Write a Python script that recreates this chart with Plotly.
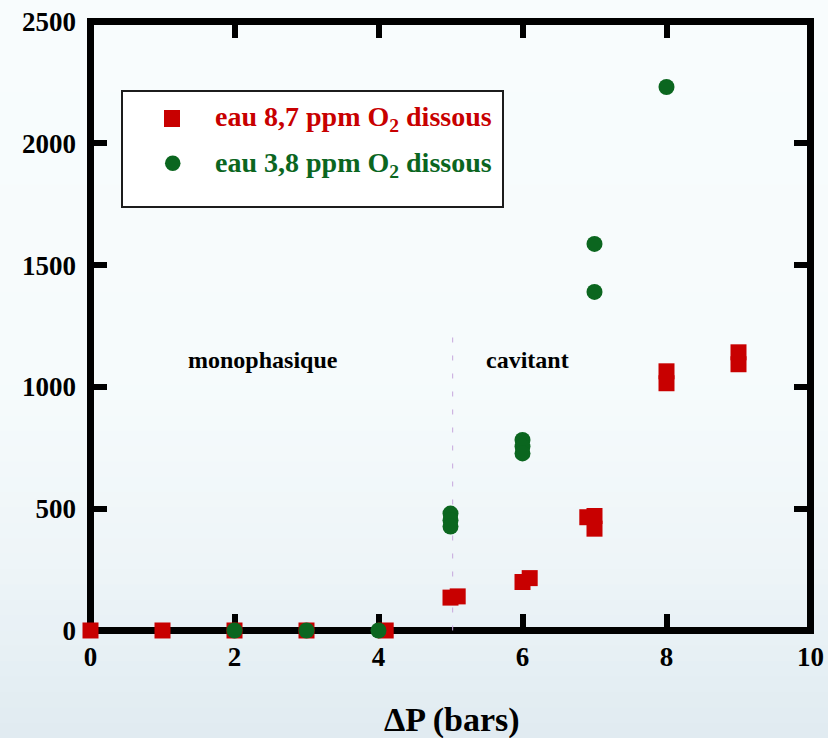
import plotly.graph_objects as go

# ---- data -------------------------------------------------------------
# water with 8.7 ppm dissolved O2 (red squares)
red_dp = [0, 1, 2, 3, 4.1, 5.0, 5.1, 6.0, 6.1, 6.9, 7.0, 7.0, 8, 8, 9, 9]
red_val = [0, 0, 0, 0, 0, 135, 140, 199, 215, 465, 470, 418, 1064, 1015, 1142, 1093]

# water with 3.8 ppm dissolved O2 (green circles)
green_dp = [2, 3, 4, 5, 5, 5, 6, 6, 6, 7, 7, 8]
green_val = [0, 0, 0, 480, 453, 427, 782, 755, 727, 1587, 1390, 2231]

red_label = "eau 8,7 ppm O<sub>2</sub> dissous"
green_label = "eau 3,8 ppm O<sub>2</sub> dissous"
region_labels = ["monophasique", "cavitant"]
region_label_x = [2.4, 6.07]
region_label_y = 1112
boundary_dp = 5.03
boundary_top = 1230

x_ticks = [0, 2, 4, 6, 8, 10]
y_ticks = [0, 500, 1000, 1500, 2000, 2500]

RED = "#c80000"
GREEN = "#0b661f"
FONT = "Liberation Serif"

# ---- page geometry -------------------------------------------------------
W_FIG, H_FIG = 828, 738
ML, MR, MT, MB = 87, 14, 18, 104
PW = W_FIG - ML - MR
PH = H_FIG - MT - MB
FRAME_W = 7
x_pad = (FRAME_W / 2) / (PW / 10.097)
y_pad = 14.4


def px_x(px):
    return (px - ML) / PW


def px_y(py):
    return (H_FIG - MB - py) / PH


fig = go.Figure()

fig.add_trace(go.Scatter(
    x=red_dp, y=red_val, mode="markers",
    marker=dict(symbol="square", size=16, color=RED, line=dict(width=0)),
    cliponaxis=False, showlegend=False, hoverinfo="x+y",
))
fig.add_trace(go.Scatter(
    x=green_dp, y=green_val, mode="markers",
    marker=dict(symbol="circle", size=16, color=GREEN, line=dict(width=0)),
    cliponaxis=False, showlegend=False, hoverinfo="x+y",
))

shapes = []

# soft vertical background gradient over the whole page
stops = [(0, (248, 252, 253)), (380, (246, 251, 252)), (560, (238, 245, 248)), (738, (224, 235, 241))]
n_strips = 48
for i in range(n_strips):
    y0 = i * H_FIG / n_strips
    y1 = (i + 1) * H_FIG / n_strips + 1
    ym = (y0 + y1) / 2
    for (a, ca), (b, cb) in zip(stops[:-1], stops[1:]):
        if a <= ym <= b:
            t = (ym - a) / (b - a)
            c = tuple(round(ca[k] + (cb[k] - ca[k]) * t) for k in range(3))
            break
    shapes.append(dict(
        type="rect", xref="paper", yref="paper", layer="below",
        x0=px_x(-2), x1=px_x(W_FIG + 2), y0=px_y(y1), y1=px_y(y0),
        fillcolor="rgb(%d,%d,%d)" % c, line=dict(width=0),
    ))

# heavy frame around the data area
shapes.append(dict(
    type="rect", xref="x", yref="y", layer="below",
    x0=0, x1=10, y0=0, y1=2500,
    line=dict(color="black", width=FRAME_W), fillcolor="rgba(0,0,0,0)",
))

# boundary between single-phase and cavitating regimes
shapes.append(dict(
    type="line", xref="x", yref="y", layer="below",
    x0=boundary_dp, x1=boundary_dp, y0=0, y1=boundary_top,
    line=dict(color="#c6a6dc", width=1, dash="5px,13px"),
))

# legend box and swatches
shapes.append(dict(
    type="rect", xref="paper", yref="paper", layer="above",
    x0=px_x(122), x1=px_x(503), y0=px_y(207), y1=px_y(91),
    fillcolor="white", line=dict(color="#1c1c1c", width=2),
))
shapes.append(dict(
    type="rect", xref="paper", yref="paper", layer="above",
    x0=px_x(164), x1=px_x(180), y0=px_y(127), y1=px_y(110),
    fillcolor=RED, line=dict(width=0),
))
shapes.append(dict(
    type="circle", xref="paper", yref="paper", layer="above",
    x0=px_x(165), x1=px_x(180.5), y0=px_y(171), y1=px_y(155.5),
    fillcolor=GREEN, line=dict(width=0),
))

annotations = []
for txt, color, yc in [(red_label, RED, 118), (green_label, GREEN, 164)]:
    annotations.append(dict(
        text=txt, xref="paper", yref="paper", x=px_x(213), y=px_y(yc),
        xanchor="left", yanchor="middle", showarrow=False,
        font=dict(family=FONT, size=28, color=color, weight="bold"),
    ))

for lab, lx in zip(region_labels, region_label_x):
    annotations.append(dict(
        text=lab, xref="x", yref="y", x=lx, y=region_label_y,
        xanchor="center", yanchor="middle", showarrow=False,
        font=dict(family=FONT, size=24, color="black", weight="bold"),
    ))

annotations.append(dict(
    text="ΔP (bars)", xref="paper", yref="paper", x=px_x(452), y=px_y(720),
    xanchor="center", yanchor="middle", showarrow=False,
    font=dict(family=FONT, size=34, color="black", weight="bold"),
))

axis_common = dict(
    showgrid=False, zeroline=False, showline=False, automargin=False,
    ticks="inside", ticklen=20, tickwidth=6, tickcolor="black",
    mirror="ticks", layer="below traces",
    tickfont=dict(family=FONT, size=27, color="black", weight="bold"),
)

fig.update_layout(
    width=W_FIG, height=H_FIG,
    margin=dict(l=ML, r=MR, t=MT, b=MB, pad=0, autoexpand=False),
    paper_bgcolor="rgb(244,249,251)",
    plot_bgcolor="rgba(0,0,0,0)",
    shapes=shapes,
    annotations=annotations,
    showlegend=False,
    xaxis=dict(range=[-x_pad, 10 + x_pad], tickvals=x_ticks, ticklabelstandoff=4, **axis_common),
    yaxis=dict(range=[-y_pad, 2500 + y_pad], tickvals=y_ticks, ticklabelstandoff=10, **axis_common),
)

fig.write_html("out.html")
